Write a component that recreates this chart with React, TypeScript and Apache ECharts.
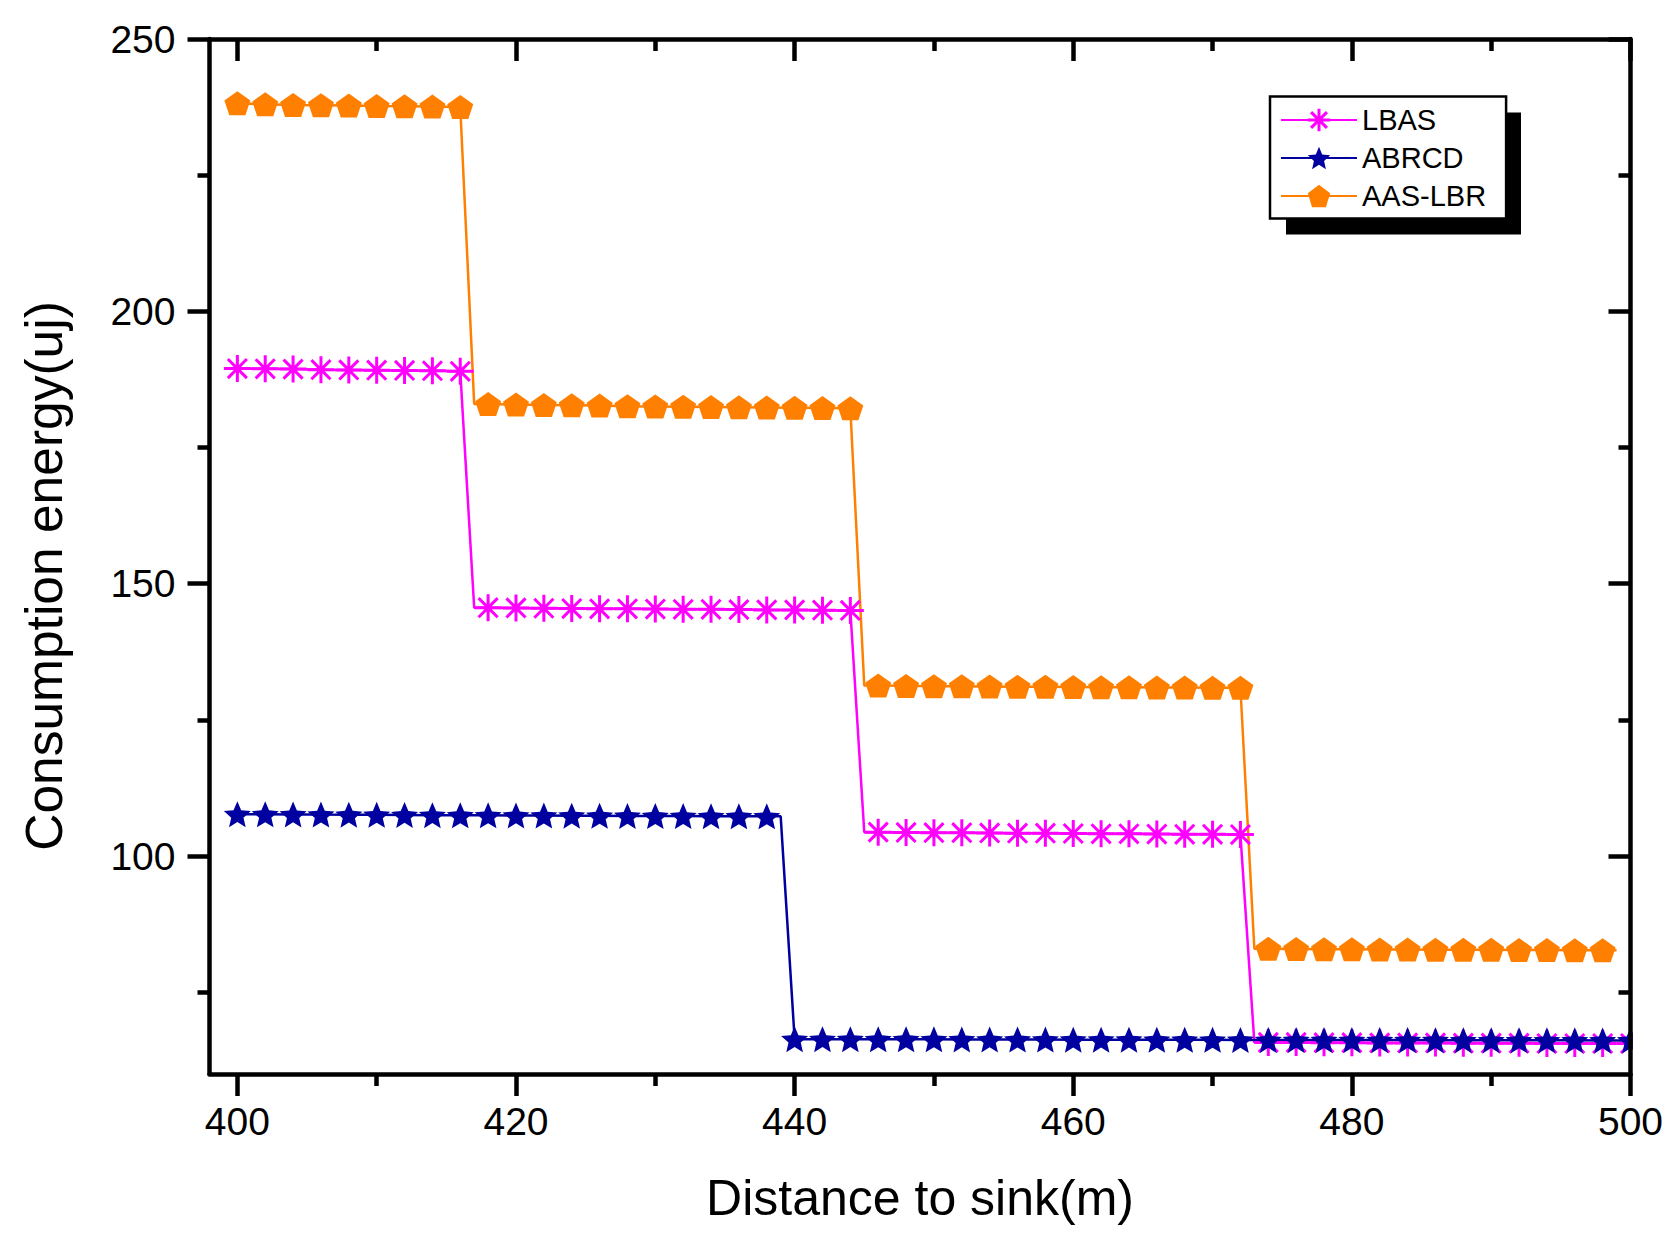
import React, { useEffect, useRef } from "react";
import * as echarts from "echarts";

const X_MAJOR = [400, 420, 440, 460, 480, 500];
const X_MINOR = [410, 430, 450, 470, 490];
const Y_MAJOR = [100, 150, 200, 250];
const Y_MINOR = [75, 125, 175, 225];

const SERIES_NAMES = ["LBAS", "ABRCD", "AAS-LBR"];

const LBAS: [number, number][] = [
  [400, 189.5], [402, 189.45], [404, 189.4], [406, 189.3], [408, 189.25], [410, 189.2], [412, 189.15], [414, 189.1], [416, 189.0],
  [417, 145.6],
  [418, 145.6], [420, 145.55], [422, 145.5], [424, 145.45], [426, 145.4], [428, 145.4], [430, 145.35], [432, 145.3], [434, 145.3],
  [436, 145.25], [438, 145.2], [440, 145.2], [442, 145.15], [444, 145.1],
  [445, 104.4],
  [446, 104.4], [448, 104.35], [450, 104.3], [452, 104.3], [454, 104.25], [456, 104.2], [458, 104.2], [460, 104.15], [462, 104.1],
  [464, 104.1], [466, 104.05], [468, 104.0], [470, 104.0], [472, 103.95],
  [473, 65.8],
  [474, 65.8], [476, 65.8], [478, 65.75], [480, 65.75], [482, 65.7], [484, 65.7], [486, 65.7], [488, 65.65], [490, 65.65],
  [492, 65.65], [494, 65.6], [496, 65.6], [498, 65.6], [500, 65.6],
];

const ABRCD: [number, number][] = [
  [400, 107.7], [402, 107.68], [404, 107.65], [406, 107.62], [408, 107.6], [410, 107.58], [412, 107.55], [414, 107.52], [416, 107.5],
  [418, 107.48], [420, 107.46], [422, 107.44], [424, 107.42], [426, 107.4], [428, 107.38], [430, 107.36], [432, 107.34], [434, 107.32],
  [436, 107.31], [438, 107.3],
  [439, 107.3],
  [440, 66.4], [442, 66.4], [444, 66.39], [446, 66.38], [448, 66.37], [450, 66.36], [452, 66.35], [454, 66.34], [456, 66.33],
  [458, 66.32], [460, 66.31], [462, 66.3], [464, 66.3], [466, 66.29], [468, 66.28], [470, 66.27], [472, 66.26], [474, 66.25],
  [476, 66.25], [478, 66.24], [480, 66.23], [482, 66.22], [484, 66.22], [486, 66.21], [488, 66.2], [490, 66.2], [492, 66.19],
  [494, 66.18], [496, 66.18], [498, 66.17], [500, 66.17],
];

const AAS_LBR: [number, number][] = [
  [400, 238.2], [402, 238.0], [404, 237.9], [406, 237.85], [408, 237.8], [410, 237.7], [412, 237.65], [414, 237.6], [416, 237.5],
  [417, 183.0],
  [418, 183.0], [420, 182.9], [422, 182.8], [424, 182.75], [426, 182.7], [428, 182.6], [430, 182.55], [432, 182.5], [434, 182.45],
  [436, 182.4], [438, 182.35], [440, 182.3], [442, 182.25], [444, 182.2],
  [445, 131.3],
  [446, 131.3], [448, 131.25], [450, 131.2], [452, 131.2], [454, 131.15], [456, 131.1], [458, 131.1], [460, 131.05], [462, 131.0],
  [464, 131.0], [466, 130.95], [468, 130.95], [470, 130.9], [472, 130.9],
  [473, 83.0],
  [474, 83.0], [476, 82.95], [478, 82.9], [480, 82.9], [482, 82.85], [484, 82.85], [486, 82.8], [488, 82.8], [490, 82.8],
  [492, 82.75], [494, 82.75], [496, 82.7], [498, 82.7],
  [499, 82.7],
];

const FONT = "'Liberation Sans', Arial, Helvetica, sans-serif";

const ASTERISK = "path://M14 0L14 28M0 14L28 14M4.1 4.1L23.9 23.9M23.9 4.1L4.1 23.9";
const STAR = "path://M13 0L16.5 8.2L25.36 8.98L18.6 14.9L20.64 23.52L13 18.9L5.36 23.52L7.4 14.9L0.64 8.98L9.5 8.2Z";
const PENTAGON = "path://M13.5 0L26.34 9.33L21.44 24.42L5.56 24.42L0.66 9.33Z";

const MAGENTA = "#FF00FF";
const NAVY = "#0000A0";
const ORANGE = "#FF8000";

// markers only on the even distances; the odd ones are the step corners of the line
const withMarkers = (pts: [number, number][]) =>
  pts.map((p) => (p[0] % 2 === 0 ? p : { value: p, symbol: "none" }));

export default function App() {
  const ref = useRef<HTMLDivElement>(null);

  useEffect(() => {
    if (!ref.current) return;
    const chart = echarts.init(ref.current, null, { renderer: "svg" });

    const GRID = { left: 209.5, top: 39, width: 1421, height: 1035 };
    const AX_W = 4.5;
    const axLine = { show: true, onZero: false, lineStyle: { color: "#000", width: AX_W } };
    const noLine = { show: false, onZero: false };
    const tickStyle = { color: "#000", width: AX_W };

    const xBase = { type: "value", min: 398, max: 500, gridIndex: 0, splitLine: { show: false }, z: 8 };
    const yBase = { type: "value", min: 60, max: 250, gridIndex: 0, splitLine: { show: false }, z: 8 };

    const option: any = {
      animation: false,
      backgroundColor: "#fff",
      grid: { ...GRID, containLabel: false },
      xAxis: [
        {
          ...xBase,
          position: "bottom",
          axisLine: axLine,
          axisTick: { show: true, customValues: X_MAJOR, length: 22, lineStyle: tickStyle },
          axisLabel: { show: true, customValues: X_MAJOR, fontSize: 39, fontFamily: FONT, color: "#000", margin: 28 },
          name: "Distance to sink(m)",
          nameLocation: "middle",
          nameGap: 99,
          nameTextStyle: { fontSize: 50, fontFamily: FONT, color: "#000" },
        },
        {
          ...xBase,
          position: "bottom",
          axisLine: noLine,
          axisTick: { show: true, customValues: X_MINOR, length: 12, lineStyle: tickStyle },
          axisLabel: { show: false },
        },
        {
          ...xBase,
          position: "top",
          axisLine: axLine,
          axisTick: { show: true, inside: true, customValues: X_MAJOR, length: 22, lineStyle: tickStyle },
          axisLabel: { show: false },
        },
        {
          ...xBase,
          position: "top",
          axisLine: noLine,
          axisTick: { show: true, inside: true, customValues: X_MINOR, length: 12, lineStyle: tickStyle },
          axisLabel: { show: false },
        },
      ],
      yAxis: [
        {
          ...yBase,
          position: "left",
          axisLine: axLine,
          axisTick: { show: true, customValues: Y_MAJOR, length: 22, lineStyle: tickStyle },
          axisLabel: { show: true, customValues: Y_MAJOR, fontSize: 39, fontFamily: FONT, color: "#000", margin: 34 },
          name: "Consumption energy(uj)",
          nameLocation: "middle",
          nameGap: 140,
          nameTextStyle: { fontSize: 51.5, fontFamily: FONT, color: "#000", padding: [0, 39, 0, 0] },
        },
        {
          ...yBase,
          position: "left",
          axisLine: noLine,
          axisTick: { show: true, customValues: Y_MINOR, length: 12, lineStyle: tickStyle },
          axisLabel: { show: false },
        },
        {
          ...yBase,
          position: "right",
          axisLine: axLine,
          axisTick: { show: true, inside: true, customValues: Y_MAJOR, length: 22, lineStyle: tickStyle },
          axisLabel: { show: false },
        },
        {
          ...yBase,
          position: "right",
          axisLine: noLine,
          axisTick: { show: true, inside: true, customValues: Y_MINOR, length: 12, lineStyle: tickStyle },
          axisLabel: { show: false },
        },
      ],
      legend: {
        orient: "vertical",
        left: 1270,
        top: 96.5,
        z: 7,
        padding: [9, 20, 8, 10],
        itemWidth: 76,
        itemHeight: 28,
        itemGap: 9,
        backgroundColor: "#fff",
        borderColor: "#000",
        borderWidth: 2.5,
        borderRadius: 0,
        textStyle: { fontSize: 29, fontFamily: FONT, color: "#000" },
        itemStyle: { borderWidth: 0 },
        data: [
          { name: SERIES_NAMES[0], itemStyle: { borderColor: MAGENTA, borderWidth: 3 } },
          { name: SERIES_NAMES[1] },
          { name: SERIES_NAMES[2] },
        ],
      },
      graphic: {
        elements: [
          { type: "rect", z: 6, shape: { x: 1286, y: 112.5, width: 235, height: 122 }, style: { fill: "#000" } },
          { type: "rect", z: 6, shape: { x: 1632.8, y: 1010, width: 46, height: 50 }, style: { fill: "#fff" } },
        ],
      },
      series: [
        {
          name: SERIES_NAMES[0],
          type: "line",
          xAxisIndex: 0,
          yAxisIndex: 0,
          data: withMarkers(LBAS),
          symbol: ASTERISK,
          symbolSize: [27, 27],
          showAllSymbol: true,
          lineStyle: { color: MAGENTA, width: 2.5 },
          itemStyle: { color: MAGENTA, borderColor: MAGENTA, borderWidth: 3 },
          emphasis: { disabled: true },
        },
        {
          name: SERIES_NAMES[1],
          type: "line",
          xAxisIndex: 0,
          yAxisIndex: 0,
          data: withMarkers(ABRCD),
          symbol: STAR,
          symbolSize: [27, 26],
          showAllSymbol: true,
          lineStyle: { color: NAVY, width: 2.5 },
          itemStyle: { color: NAVY, borderWidth: 0 },
          emphasis: { disabled: true },
        },
        {
          name: SERIES_NAMES[2],
          type: "line",
          xAxisIndex: 0,
          yAxisIndex: 0,
          data: withMarkers(AAS_LBR),
          symbol: PENTAGON,
          symbolSize: [26, 24],
          showAllSymbol: true,
          lineStyle: { color: ORANGE, width: 2.5 },
          itemStyle: { color: ORANGE, borderWidth: 0 },
          emphasis: { disabled: true },
        },
      ],
    };

    chart.setOption(option);
    return () => chart.dispose();
  }, []);

  return (
    <div
      ref={ref}
      style={{ position: "absolute", left: 0, top: 0, width: 1678, height: 1239, background: "#fff" }}
    />
  );
}
